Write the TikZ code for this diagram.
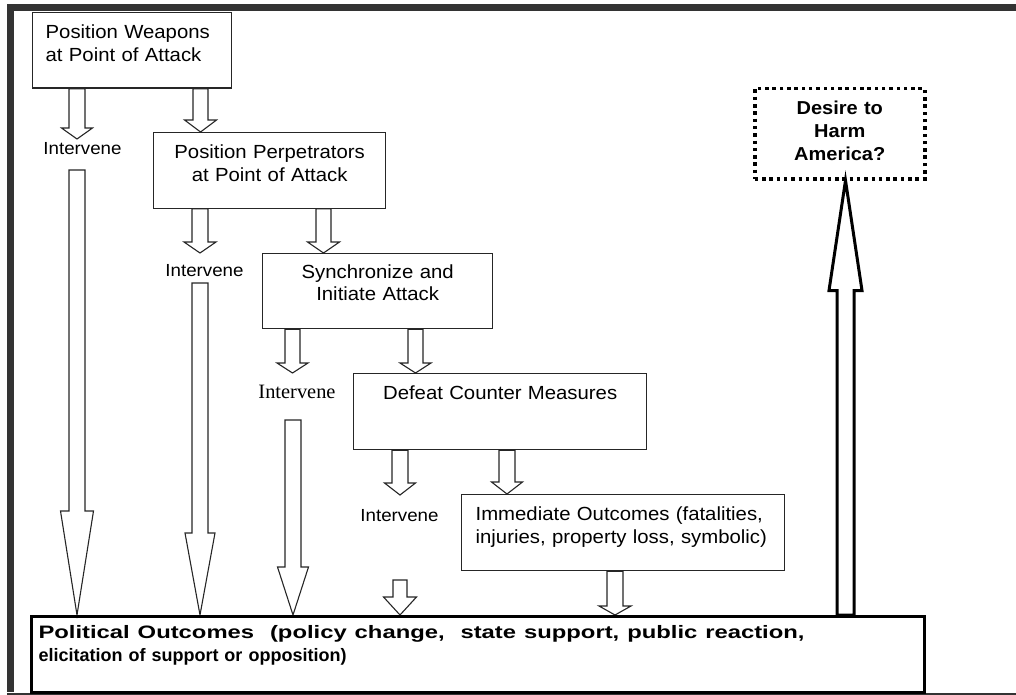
\documentclass[tikz,border=0pt]{standalone}
\usepackage{graphicx}
\usepackage{fontspec}
\setmainfont{Liberation Sans}[FakeStretch=1.07]
\newfontfamily\plainsans{Liberation Sans}
\newfontfamily\timesfont{Liberation Serif}
\usetikzlibrary{calc}
\pgfdeclarelayer{background}
\pgfsetlayers{background,main}
\definecolor{framegray}{HTML}{333333}
\newcommand{\ts}[1]{\rule{0pt}{#1pt}}
\newcommand{\bs}[1]{\rule[-#1pt]{0pt}{#1pt}}
% block arrow: [style] {start} {tip} {shaft half width} {head half width} {head length (signed)}
\newcommand{\blockarrow}[6][]{%
  \draw[blk,#1] let \p1=#2, \p2=#3 in
    ({\x2-#4pt},\y1) -- ({\x2-#4pt},{\y2+(#6)}) -- ({\x2-#5pt},{\y2+(#6)}) -- (\x2,\y2)
    -- ({\x2+#5pt},{\y2+(#6)}) -- ({\x2+#4pt},{\y2+(#6)}) -- ({\x2+#4pt},\y1) -- cycle;}
\tikzset{
  box/.style={draw=black!85, line width=1.3pt, inner sep=0pt, anchor=north west,
              font=\fontsize{19}{22.5}\selectfont},
  bigbox/.style={draw=black, line width=3pt, inner sep=0pt, anchor=north west,
              font=\plainsans\bfseries\fontsize{18}{22.5}\selectfont},
  dbox/.style={draw=black, line width=3.5pt, dash pattern=on 3.5pt off 3.8pt, inner sep=0pt,
              anchor=north west, font=\bfseries\fontsize{18.7}{23}\selectfont},
  iv/.style={inner sep=0pt, anchor=base, font=\fontsize{17.5}{22}\selectfont},
  blk/.style={draw=black!85, line width=1.1pt, fill=white, line join=miter},
  upblk/.style={draw=black, line width=3pt, fill=white, line join=miter},
}
\begin{document}
\begin{tikzpicture}[x=1pt,y=-1pt]
\useasboundingbox (0,0) rectangle (1016,695);
% outer frame
\fill[framegray] (7,4) rectangle (1016,11);
\fill[framegray] (7,4) rectangle (14,692);
\fill[framegray] (7,692.5) rectangle (1016,695);

% boxes
\node[box, text width=173pt, inner xsep=13pt, align=left] (b1) at (32,12)
  {\ts{26}\mbox{Position Weapons}\\\mbox{at Point of Attack}\bs{27}};
\node[box, text width=232pt, align=center] (b2) at (153,132)
  {\ts{26}Position Perpetrators\\at Point of Attack\bs{27}};
\node[box, text width=230pt, align=center] (b3) at (262,253)
  {\ts{24.5}Synchronize and\\Initiate Attack\bs{28}};
\node[box, text width=293pt, align=center] (b4) at (353,373)
  {\ts{26}Defeat Counter Measures\bs{50}};
\node[box, text width=295pt, inner xsep=14pt, align=left] (b5) at (461,494)
  {\ts{26}\mbox{Immediate Outcomes (fatalities,}\\\mbox{injuries, property loss, symbolic)}\bs{27.5}};
\node[bigbox, text width=879pt, inner xsep=7pt, align=left] (b6) at (30,615)
  {\ts{22}\resizebox{766pt}{\height}{Political Outcomes\ \ (policy change,\ \ state support, public reaction,}\\\mbox{elicitation of support or opposition)}\bs{31}};
\node[dbox, text width=170pt, align=center] (d) at (753,87)
  {\ts{26}Desire to\\Harm\\America?\bs{18}};

% Intervene labels
\node[iv] (i1) at (82.5,155) {Intervene};
\node[iv] (i2) at (204.5,276) {Intervene};
\node[iv, font=\timesfont\fontsize{20.4}{24}\selectfont] (i3) at (297,398) {Intervene};
\node[iv] (i4) at (399.5,521) {Intervene};

% free ends of connectors
\coordinate (i1in) at (77,139);
\coordinate (i2in) at (200,253);
\coordinate (i3in) at (292.5,373);
\coordinate (i4in) at (400,495);
\coordinate (i1out) at (77,170);
\coordinate (i2out) at (200,283);
\coordinate (i3out) at (293,420);
\coordinate (i4out) at (400,580);

\begin{pgfonlayer}{background}
% box to Intervene
\blockarrow{(b1.south)}{(i1in)}{8}{15.5}{11pt}
\blockarrow{(b2.south)}{(i2in)}{8}{16}{11pt}
\blockarrow{(b3.south)}{(i3in)}{7.5}{15.5}{10pt}
\blockarrow{(b4.south)}{(i4in)}{8}{15.5}{12pt}
% box to next box
\blockarrow{(b1.south)}{(200.5,0 |- b2.north)}{7.5}{16}{12pt}
\blockarrow{(b2.south)}{(323.5,0 |- b3.north)}{7.5}{16}{11pt}
\blockarrow{(b3.south)}{(415.5,0 |- b4.north)}{7.5}{15.5}{10pt}
\blockarrow{(b4.south)}{(507,0 |- b5.north)}{8}{15.5}{12pt}
\blockarrow{(b5.south)}{(615,0 |- b6.north)}{8}{16}{9pt}
% Intervene to political outcomes
\blockarrow{(i1out)}{(77,0 |- b6.north)}{8}{16.5}{104pt}
\blockarrow{(i2out)}{(200,0 |- b6.north)}{8}{15}{82pt}
\blockarrow{(i3out)}{(293,0 |- b6.north)}{8}{15.5}{48pt}
\blockarrow{(i4out)}{(400,0 |- b6.north)}{7}{16.5}{18pt}
% political outcomes to desire
\blockarrow[upblk]{(b6.north)}{(845.5,0 |- d.south)}{8.5}{16.5}{-110pt}
\end{pgfonlayer}
\end{tikzpicture}
\end{document}
